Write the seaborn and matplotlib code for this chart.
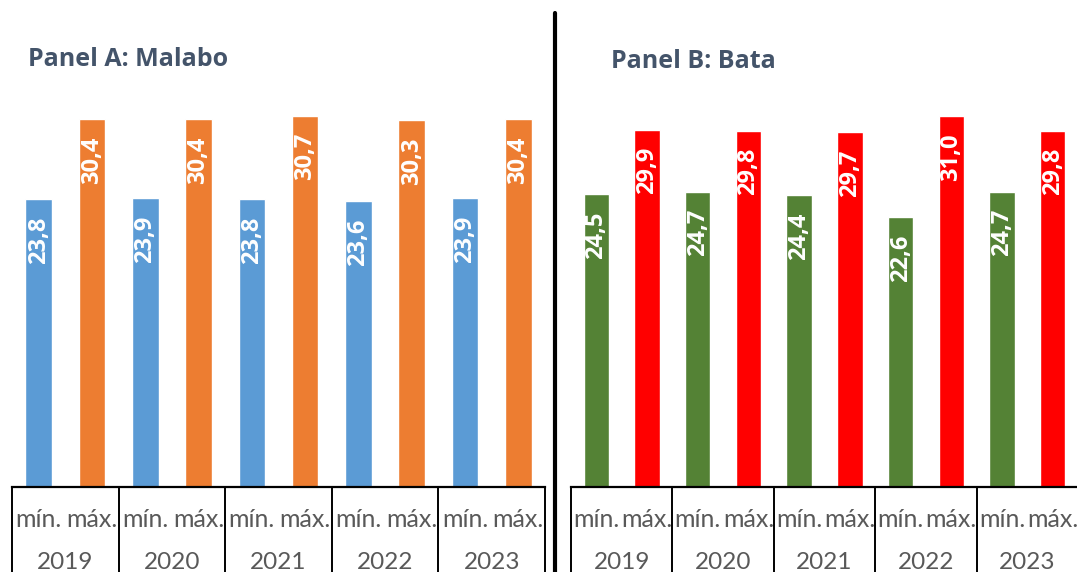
"""Min / max temperatures per year, Malabo vs Bata."""

import matplotlib.pyplot as plt
import pandas as pd
import seaborn as sns
from matplotlib.lines import Line2D

years = ["2019", "2020", "2021", "2022", "2023"]
kinds = ["mín.", "máx."]
malabo_min = [23.8, 23.9, 23.8, 23.6, 23.9]
malabo_max = [30.4, 30.4, 30.7, 30.3, 30.4]
bata_min = [24.5, 24.7, 24.4, 22.6, 24.7]
bata_max = [29.9, 29.8, 29.7, 31.0, 29.8]

W, H = 1077, 572
BOLD = ["Open Sans", "DejaVu Sans"]


def long_frame(mins, maxs):
    rows = []
    for i, y in enumerate(years):
        rows.append({"slot": f"{y} {kinds[0]}", "tipo": kinds[0], "valor": mins[i]})
        rows.append({"slot": f"{y} {kinds[1]}", "tipo": kinds[1], "valor": maxs[i]})
    return pd.DataFrame(rows)


def draw_panel(fig, left, width, ymax, mins, maxs, colors, title, title_y):
    ax_h = 399.3
    ax = fig.add_axes([left / W, (H - 487) / H, width / W, ax_h / H])
    df = long_frame(mins, maxs)
    sns.barplot(data=df, x="slot", y="valor", hue="tipo", palette=colors,
                dodge=False, width=0.5, legend=False, ax=ax, saturation=1)
    ax.set_xlim(-0.5, 9.5)
    ax.set_ylim(0, ymax)
    ax.set_xlabel("")
    ax.set_ylabel("")
    ax.set_yticks([])
    for s in ["top", "left", "right"]:
        ax.spines[s].set_visible(False)
    ax.spines["bottom"].set_color("black")
    ax.spines["bottom"].set_linewidth(1.6)

    ax.set_xticks(range(10))
    ax.set_xticklabels([kinds[i % 2] for i in range(10)], color="#595959",
                       fontsize=18)
    ax.tick_params(axis="x", length=0, pad=15)

    # category boxes under the axis
    ax.vlines([g * 2 - 0.5 for g in range(6)], -0.3, 0, color="black",
              linewidth=1.4, transform=ax.get_xaxis_transform(), clip_on=False)
    for g, y in enumerate(years):
        ax.text(g * 2 + 0.5, -0.188, y, transform=ax.get_xaxis_transform(),
                ha="center", va="center", fontsize=17.5, color="#595959")

    for i, v in enumerate(df["valor"]):
        ax.annotate(f"{v:.1f}".replace(".", ","), (i, v), xytext=(0, -12.5),
                    textcoords="offset points", rotation=90, ha="center",
                    va="top", color="white", fontsize=17, fontweight="bold",
                    family=BOLD)

    fig.text(title[1] / W, 1 - title_y / H, title[0], ha="left", va="center",
             fontsize=18, fontweight="bold", color="#44546A", family=BOLD)
    return ax


def main():
    sns.set_theme(style="white")
    plt.rcParams["font.family"] = ["Lato", "DejaVu Sans"]

    fig = plt.figure(figsize=(W / 100, H / 100), dpi=100)

    draw_panel(fig, 12, 533, 33.0, malabo_min, malabo_max,
               ["#5B9BD5", "#ED7D31"], ("Panel A: Malabo", 28), 59)
    draw_panel(fig, 571, 507, 33.4, bata_min, bata_max,
               ["#548235", "#FF0000"], ("Panel B: Bata", 611), 62)

    fig.add_artist(Line2D([555 / W, 555 / W], [0, 1 - 13 / H], color="black",
                          linewidth=3, transform=fig.transFigure))

    fig.savefig("out.png", dpi=100)


if __name__ == "__main__":
    main()
